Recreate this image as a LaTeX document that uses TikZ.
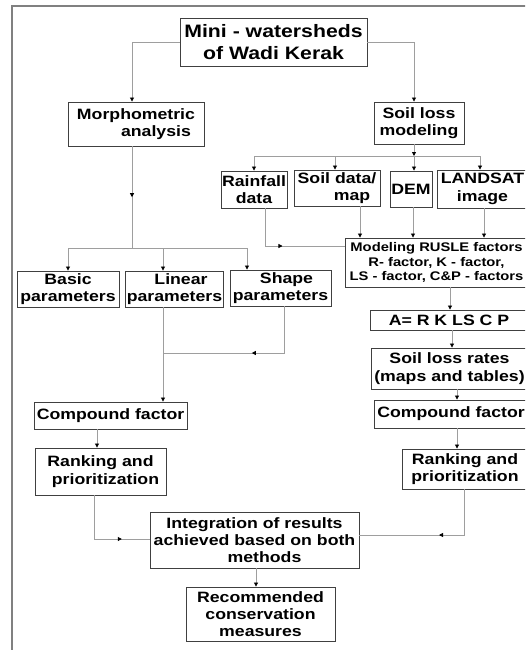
\documentclass[tikz,border=0pt]{standalone}
\usepackage{fontspec}
\setmainfont{Liberation Sans}[FakeStretch=1.18]
\usetikzlibrary{arrows.meta,decorations.markings}

\begin{document}
\begin{tikzpicture}[x=1pt,y=-1pt,
  box/.style={draw=black!75, line width=0.9pt, inner sep=1pt, align=center,
    font=\fontsize{15}{17.5}\selectfont\bfseries},
  sz/.style 2 args={minimum width=#1pt, minimum height=#2pt},
  conn/.style={draw=black!38, line width=0.8pt},
  tip/.style={-{Triangle[length=4pt,width=4pt,color=black]}},
  midtip/.style={postaction={decorate}, decoration={markings,
    mark=at position #1 with {\arrow{Triangle[length=4pt,width=4pt,color=black]}}}}]
\useasboundingbox (0,0) rectangle (525,650);
\clip (0,0) rectangle (525,650);
\draw[black!50, line width=1.2pt] (12,652) -- (12,6) -- (530,6);

% top and the two methods
\node[box, sz={187}{48}, font=\fontsize{18}{22}\selectfont\bfseries] (ws) at (273.5,42) {Mini - watersheds\\of Wadi Kerak};
\node[box, sz={136}{44}] (morph) at (136,124) {Morphometric\\\hspace*{40pt}analysis};
\node[box, sz={90}{42}] (soil) at (419,123) {Soil loss\\modeling};
\draw[conn, tip] (ws.west) -| ([xshift=-4pt]morph.north);
\draw[conn, tip] (ws.east) -| ([xshift=-5pt]soil.north);

% soil loss branch
\node[box, sz={66}{37}] (rain) at (254,189.5) {Rainfall\\data};
\node[box, sz={86}{36}] (soildata) at (337,188) {Soil data/\\\hspace*{30pt}map};
\node[box, sz={42}{36}] (dem) at (411,189) {DEM};
\node[box, sz={91}{38}] (landsat) at (482.5,189) {LANDSAT\\image};
\coordinate (sb) at (414,156);
\draw[conn, tip] ([xshift=-5pt]soil.south) -- (sb);
\draw[conn, tip] (sb) -| (rain.north);
\draw[conn, tip] (sb) -| ([xshift=-2pt]soildata.north);
\draw[conn, tip] (sb) -- ([xshift=3pt]dem.north);
\draw[conn, tip] (sb) -| ([xshift=-2.5pt]landsat.north);

\node[box, sz={183}{49}, font=\fontsize{12.5}{14.7}\selectfont\bfseries] (model) at (436.5,262.5) {Modeling RUSLE factors\\R- factor, K - factor,\\LS - factor, C\&P - factors};
\draw[conn, midtip=0.47] ([xshift=11pt]rain.south) |- ([yshift=16.5pt]model.west);
\draw[conn, tip] ([xshift=23pt]soildata.south) -- ([xshift=-76.5pt]model.north);
\draw[conn, tip] ([xshift=2pt]dem.south) -- ([xshift=-23.5pt]model.north);
\draw[conn, tip] ([xshift=1.5pt]landsat.south) -- ([xshift=47.5pt]model.north);

\node[box, sz={158}{20}, font=\fontsize{15}{17}\selectfont\bfseries] (aeq) at (449,320) {A= R K LS C P};
\node[box, sz={157}{41}, font=\fontsize{15}{17.5}\selectfont\bfseries] (rates) at (449.5,368.5) {Soil loss rates\\(maps and tables)};
\node[box, sz={154}{28}] (compR) at (451,414) {Compound factor};
\node[box, sz={126}{40}] (rankR) at (465,469) {Ranking and\\prioritization};
\draw[conn, tip] ([xshift=13.5pt]model.south) -- ([xshift=1pt]aeq.north);
\draw[conn, tip] ([xshift=3pt]aeq.south) -- ([xshift=2.5pt]rates.north);
\draw[conn, tip] ([xshift=7.5pt]rates.south) -- ([xshift=6pt]compR.north);
\draw[conn, tip] ([xshift=6pt]compR.south) -- ([xshift=-8pt]rankR.north);

% morphometric branch
\node[box, sz={102}{36}] (basic) at (68,289) {Basic\\parameters};
\node[box, sz={97}{36}] (linear) at (174.5,289) {\hspace*{13pt}Linear\\parameters};
\node[box, sz={101}{36}] (shape) at (280.5,288) {\hspace*{12pt}Shape\\parameters};
\coordinate (mb) at (132,248);
\coordinate (lj) at (163,353);
\draw[conn, midtip=0.5] ([xshift=-4pt]morph.south) -- (mb);
\draw[conn, tip] (mb) -| (basic.north);
\draw[conn, tip] (mb) -| ([xshift=-11.5pt]linear.north);
\draw[conn, tip] (mb) -| ([xshift=-33.5pt]shape.north);
\draw[conn, midtip=0.47] ([xshift=3.5pt]shape.south) |- (lj);

\node[box, sz={153}{27}] (compL) at (110.5,415.5) {Compound factor};
\node[box, sz={131}{47}] (rankL) at (100.5,471.5) {Ranking and\\\hspace*{10pt}prioritization};
\draw[conn, tip] ([xshift=-11.5pt]linear.south) -- ([xshift=52.5pt]compL.north);
\draw[conn, tip] ([xshift=-13.5pt]compL.south) -- ([xshift=-3.5pt]rankL.north);

% integration
\node[box, sz={209}{56}, font=\fontsize{15}{16.7}\selectfont\bfseries] (integ) at (254.5,540) {Integration of results\\achieved based on both\\\hspace*{20pt}methods};
\node[box, sz={149}{54}, font=\fontsize{15}{16.7}\selectfont\bfseries] (recom) at (260.5,614) {Recommended\\conservation\\measures};
\draw[conn, midtip=0.72] ([xshift=-6.5pt]rankL.south) |- ([yshift=1pt]integ.west);
\draw[conn, midtip=0.47] ([xshift=-1pt]rankR.south) |- ([yshift=5pt]integ.east);
\draw[conn, tip] ([xshift=1.5pt]integ.south) -- ([xshift=-4.5pt]recom.north);
\end{tikzpicture}
\end{document}
